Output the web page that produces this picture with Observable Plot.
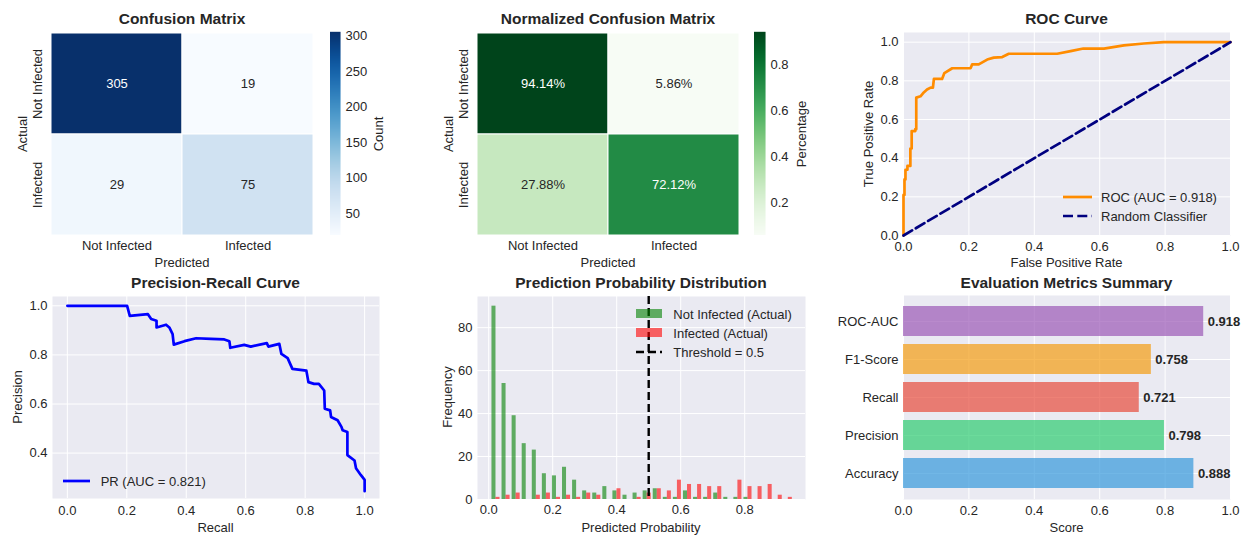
<!DOCTYPE html>
<html>
<head>
<meta charset="utf-8">
<script src="https://cdn.jsdelivr.net/npm/d3@7"></script>
<script src="https://cdn.jsdelivr.net/npm/@observablehq/plot@0.6"></script>
<style>
  html, body { margin: 0; padding: 0; background: #ffffff; }
  #fig { position: relative; width: 1246px; height: 535px; overflow: hidden;
         font-family: "Liberation Sans", Arial, sans-serif; color: #262626; background: #ffffff; }
  .lbl { position: absolute; white-space: nowrap; line-height: 1; font-size: 13px; }
  .ttl { font-size: 15.5px; font-weight: bold; }
</style>
</head>
<body>
<div id="fig"></div>
<script>
// ---------- data ----------
const classes = ["Not Infected", "Infected"];
const cmCounts = [[305, 19], [29, 75]];
const cmRates = [[0.9414, 0.0586], [0.2788, 0.7212]];

const rocFpr = [0, 0, 0.003, 0.003, 0.006, 0.006, 0.012, 0.012, 0.021, 0.021, 0.025, 0.025, 0.036, 0.036, 0.039, 0.039, 0.052, 0.062, 0.072, 0.083, 0.09, 0.093, 0.118, 0.125, 0.149, 0.205, 0.21, 0.23, 0.256, 0.276, 0.302, 0.322, 0.47, 0.511, 0.55, 0.613, 0.674, 0.735, 0.796, 1];
const rocTpr = [0, 0.21, 0.21, 0.29, 0.29, 0.34, 0.34, 0.36, 0.36, 0.45, 0.45, 0.54, 0.54, 0.55, 0.55, 0.713, 0.72, 0.74, 0.755, 0.765, 0.765, 0.81, 0.81, 0.84, 0.865, 0.865, 0.885, 0.885, 0.91, 0.92, 0.923, 0.94, 0.94, 0.954, 0.967, 0.967, 0.983, 0.993, 1, 1];
const rocAuc = 0.918;

const prRecall = [0, 0.201, 0.21, 0.271, 0.282, 0.3, 0.3, 0.332, 0.343, 0.354, 0.358, 0.394, 0.433, 0.483, 0.528, 0.545, 0.548, 0.595, 0.617, 0.671, 0.676, 0.713, 0.72, 0.741, 0.757, 0.804, 0.811, 0.83, 0.846, 0.864, 0.866, 0.884, 0.887, 0.909, 0.922, 0.926, 0.942, 0.942, 0.966, 0.971, 0.987, 1, 1];
const prPrecision = [1, 1, 0.959, 0.966, 0.946, 0.939, 0.912, 0.923, 0.912, 0.885, 0.842, 0.856, 0.868, 0.865, 0.863, 0.856, 0.829, 0.841, 0.834, 0.848, 0.834, 0.845, 0.804, 0.787, 0.743, 0.736, 0.689, 0.682, 0.682, 0.655, 0.581, 0.574, 0.547, 0.534, 0.507, 0.493, 0.486, 0.392, 0.37, 0.338, 0.311, 0.291, 0.245];
const prAuc = 0.821;

// 30 probability bins of equal width
const binStart = 0.007;
const binWidth = 0.0315;
const notInfectedCounts = [90, 54, 39, 26, 23, 12, 11, 15, 9, 4, 3, 6, 4, 2, 3, 4, 5, 1, 1, 4, 1, 1, 3, 1, 1, 1, 0, 0, 0, 0];
const infectedCounts = [1, 2, 3, 0, 2, 3, 1, 2, 1, 3, 2, 0, 5, 0, 1, 3, 5, 4, 9, 7, 7, 6, 6, 0, 9, 6, 6, 7, 2, 1];
const threshold = 0.5;

const metricNames = ["Accuracy", "Precision", "Recall", "F1-Score", "ROC-AUC"];
const metricValues = [0.888, 0.798, 0.721, 0.758, 0.918];
const metricColors = ["#3498db", "#2ecc71", "#e74c3c", "#f39c12", "#9b59b6"];

// ---------- helpers ----------
const fig = document.getElementById("fig");
const FONT = '"Liberation Sans", Arial, sans-serif';
const BG = "#EAEAF2";
const INK = "#262626";

function panel(box, m, opts) {
  const [x0, x1, y0, y1] = box;
  const [mt, mr, mb, ml] = m;
  const svg = Plot.plot({
    width: x1 - x0 + ml + mr,
    height: y1 - y0 + mt + mb,
    marginTop: mt, marginRight: mr, marginBottom: mb, marginLeft: ml,
    style: {fontFamily: FONT, fontSize: "13px", color: INK, background: "transparent", overflow: "visible"},
    ...opts
  });
  svg.style.position = "absolute";
  svg.style.left = (x0 - ml) + "px";
  svg.style.top = (y0 - mt) + "px";
  svg.style.maxWidth = "none";
  fig.append(svg);
  return svg;
}

function label(text, x, y, {rotate = 0, title = false, align = "center", bold = false} = {}) {
  const d = document.createElement("div");
  d.className = title ? "lbl ttl" : "lbl";
  d.textContent = text;
  d.style.left = x + "px";
  d.style.top = y + "px";
  if (bold) d.style.fontWeight = "bold";
  const tx = align === "left" ? "0" : "-50%";
  d.style.transform = `translate(${tx},-50%)` + (rotate ? ` rotate(${rotate}deg)` : "");
  fig.append(d);
}

function legendLine(x1, x2, y, color, width, dash) {
  const ns = "http://www.w3.org/2000/svg";
  const s = document.createElementNS(ns, "svg");
  s.setAttribute("width", x2 - x1);
  s.setAttribute("height", 8);
  s.style.position = "absolute";
  s.style.left = x1 + "px";
  s.style.top = (y - 4) + "px";
  const l = document.createElementNS(ns, "line");
  l.setAttribute("x1", 0); l.setAttribute("x2", x2 - x1);
  l.setAttribute("y1", 4); l.setAttribute("y2", 4);
  l.setAttribute("stroke", color);
  l.setAttribute("stroke-width", width);
  if (dash) l.setAttribute("stroke-dasharray", dash);
  s.append(l);
  fig.append(s);
}

function legendPatch(x1, x2, y, h, color) {
  const d = document.createElement("div");
  d.style.position = "absolute";
  d.style.left = x1 + "px";
  d.style.top = (y - h / 2) + "px";
  d.style.width = (x2 - x1) + "px";
  d.style.height = h + "px";
  d.style.background = color;
  fig.append(d);
}

const fmt1 = d3.format(".1f");
const unitTicks = [0, 0.2, 0.4, 0.6, 0.8, 1.0];
const grid = {stroke: "white", strokeOpacity: 1, strokeWidth: 1};

// ---------- confusion matrices ----------
const cmData = [];
classes.forEach((a, i) => classes.forEach((p, j) =>
  cmData.push({actual: a, predicted: p, count: cmCounts[i][j], rate: cmRates[i][j]})));

function heatmap(box, field, scheme, domain, textOf, isDark) {
  panel(box, [0, 0, 30, 20], {
    x: {domain: classes, padding: 0, label: null},
    y: {domain: classes, padding: 0, label: null},
    color: {type: "linear", scheme, domain},
    marks: [
      Plot.cell(cmData, {x: "predicted", y: "actual", fill: field, stroke: "white", strokeWidth: 1}),
      Plot.text(cmData.filter(isDark), {x: "predicted", y: "actual", text: textOf, fill: "white", fontSize: 13}),
      Plot.text(cmData.filter(d => !isDark(d)), {x: "predicted", y: "actual", text: textOf, fill: INK, fontSize: 13}),
      Plot.axisX({anchor: "bottom", tickSize: 0, tickPadding: 5.3, label: null}),
      Plot.axisY({anchor: "left", tickSize: 0, tickPadding: 9.5, tickRotate: -90, label: null})
    ]
  });
}

function colorbar(box, scheme, domain, ticks, tickFormat) {
  const n = Math.round(box[3] - box[2]);
  const [lo, hi] = domain;
  const slices = d3.range(n).map(i => ({
    y1: lo + (hi - lo) * i / n,
    y2: lo + (hi - lo) * (i + 1.2) / n,
    v: lo + (hi - lo) * (i + 0.5) / n
  }));
  panel(box, [0, 34, 0, 0], {
    x: {domain: [0, 1], axis: null},
    y: {domain, label: null},
    color: {type: "linear", scheme, domain},
    marks: [
      Plot.rect(slices, {x1: 0, x2: 1, y1: "y1", y2: "y2", fill: "v"}),
      Plot.axisY({anchor: "right", ticks, tickFormat, tickSize: 0, tickPadding: 4.5, label: null})
    ]
  });
}

heatmap([51, 313, 32, 235], "count", "blues", [19, 305], d => String(d.count), d => d.count > 160);
colorbar([330, 340.5, 32, 235], "blues", [19, 305], [50, 100, 150, 200, 250, 300], d3.format("d"));

heatmap([477, 739, 32, 235], "rate", "greens", [0.0586, 0.9414], d => (d.rate * 100).toFixed(2) + "%", d => d.rate > 0.5);
colorbar([754, 765.5, 32, 235], "greens", [0.0586, 0.9414], [0.2, 0.4, 0.6, 0.8], fmt1);

label("Confusion Matrix", 182, 18.5, {title: true});
label("Normalized Confusion Matrix", 608, 18.5, {title: true});
label("Actual", 22, 133.5, {rotate: -90});
label("Predicted", 182, 262);
label("Count", 378, 133.5, {rotate: -90});
label("Actual", 448, 133.5, {rotate: -90});
label("Predicted", 608, 262);
label("Percentage", 801, 133.5, {rotate: -90});

// ---------- ROC curve ----------
const rocData = rocFpr.map((f, i) => ({fpr: f, tpr: rocTpr[i]}));
panel([903, 1230, 32, 235], [0, 16, 30, 40], {
  x: {domain: [0, 1], label: null},
  y: {domain: [0, 1.05], label: null},
  marks: [
    Plot.frame({fill: BG, stroke: null}),
    Plot.gridX(unitTicks, grid),
    Plot.gridY(unitTicks, grid),
    Plot.axisX(unitTicks, {tickFormat: fmt1, tickSize: 0, tickPadding: 5.8, label: null}),
    Plot.axisY(unitTicks, {tickFormat: fmt1, tickSize: 0, tickPadding: 5, label: null}),
    Plot.line(rocData, {x: "fpr", y: "tpr", stroke: "darkorange", strokeWidth: 2.7}),
    Plot.line([{a: 0}, {a: 1}], {x: "a", y: "a", stroke: "navy", strokeWidth: 2.7, strokeDasharray: "10,4.3"})
  ]
});
label("ROC Curve", 1066.5, 18.5, {title: true});
label("True Positive Rate", 867.5, 133.5, {rotate: -90});
label("False Positive Rate", 1066.5, 262);
legendLine(1063, 1092, 196.7, "darkorange", 2.7);
label(`ROC (AUC = ${rocAuc.toFixed(3)})`, 1101, 196.7, {align: "left"});
legendLine(1063, 1092, 216, "navy", 2.7, "10,4.3");
label("Random Classifier", 1101, 216, {align: "left"});

// ---------- precision-recall curve ----------
const prData = prRecall.map((r, i) => ({recall: r, precision: prPrecision[i]}));
panel([52, 379, 296, 498], [10, 12, 30, 50], {
  x: {domain: [-0.05, 1.05], label: null},
  y: {domain: [0.215, 1.038], label: null},
  marks: [
    Plot.frame({fill: BG, stroke: null}),
    Plot.gridX(unitTicks, grid),
    Plot.gridY([0.4, 0.6, 0.8, 1.0], grid),
    Plot.axisX(unitTicks, {tickFormat: fmt1, tickSize: 0, tickPadding: 7, label: null}),
    Plot.axisY([0.4, 0.6, 0.8, 1.0], {tickFormat: fmt1, tickSize: 0, tickPadding: 5, label: null}),
    Plot.line(prData, {x: "recall", y: "precision", stroke: "blue", strokeWidth: 2.7})
  ]
});
label("Precision-Recall Curve", 215.5, 282.5, {title: true});
label("Precision", 17, 397, {rotate: -90});
label("Recall", 215.5, 526.5);
legendLine(62.7, 90, 480.7, "blue", 2.7);
label(`PR (AUC = ${prAuc.toFixed(3)})`, 100.7, 480.7, {align: "left"});

// ---------- probability histogram ----------
// each bin holds two side-by-side bars: not infected on the left half, infected on the right
const histNeg = notInfectedCounts.map((c, i) => ({x1: binStart + (i + 0.1) * binWidth, x2: binStart + (i + 0.5) * binWidth, count: c}));
const histPos = infectedCounts.map((c, i) => ({x1: binStart + (i + 0.5) * binWidth, x2: binStart + (i + 0.9) * binWidth, count: c}));
panel([477, 805, 296, 499], [10, 12, 30, 50], {
  x: {domain: [-0.035, 0.99], label: null},
  y: {domain: [0, 94.5], label: null},
  marks: [
    Plot.frame({fill: BG, stroke: null}),
    Plot.gridX([0, 0.2, 0.4, 0.6, 0.8], grid),
    Plot.gridY([0, 20, 40, 60, 80], grid),
    Plot.axisX([0, 0.2, 0.4, 0.6, 0.8], {tickFormat: fmt1, tickSize: 0, tickPadding: 4.8, label: null}),
    Plot.axisY([0, 20, 40, 60, 80], {tickSize: 0, tickPadding: 5, label: null}),
    Plot.rect(histNeg, {x1: "x1", x2: "x2", y1: 0, y2: "count", fill: "green", fillOpacity: 0.6}),
    Plot.rect(histPos, {x1: "x1", x2: "x2", y1: 0, y2: "count", fill: "red", fillOpacity: 0.6}),
    Plot.ruleX([threshold], {stroke: "black", strokeWidth: 2.4, strokeDasharray: "8,4"})
  ]
});
label("Prediction Probability Distribution", 641, 282.5, {title: true});
label("Frequency", 446.5, 397, {rotate: -90});
label("Predicted Probability", 641, 526.5);
legendPatch(635.7, 662.3, 313.5, 9.3, "rgba(0,128,0,0.6)");
label("Not Infected (Actual)", 673.3, 313.5, {align: "left"});
legendPatch(635.7, 662.3, 332.8, 9.3, "rgba(255,0,0,0.6)");
label("Infected (Actual)", 673.3, 332.8, {align: "left"});
legendLine(635.7, 662.3, 351.7, "black", 2.4, "8,4");
label(`Threshold = ${threshold}`, 673.3, 351.7, {align: "left"});

// ---------- metrics summary ----------
const metrics = metricNames.map((n, i) => ({name: n, value: metricValues[i], color: metricColors[i]}));
panel([903, 1230, 295, 499], [10, 16, 30, 85], {
  x: {domain: [0, 1], label: null},
  y: {domain: metricNames.slice().reverse(), paddingInner: 0.2, paddingOuter: 0.24, label: null},
  color: {type: "identity"},
  marks: [
    Plot.frame({fill: BG, stroke: null}),
    Plot.gridX(unitTicks, grid),
    Plot.gridY(grid),
    Plot.axisX(unitTicks, {tickFormat: fmt1, tickSize: 0, tickPadding: 6.3, label: null}),
    Plot.axisY({tickSize: 0, tickPadding: 5, label: null}),
    Plot.barX(metrics, {x: "value", y: "name", fill: "color", fillOpacity: 0.7}),
    Plot.text(metrics, {x: "value", y: "name", text: d => d.value.toFixed(3), dx: 4, textAnchor: "start", fontWeight: "bold", fontSize: 13, fill: INK})
  ]
});
label("Evaluation Metrics Summary", 1066.5, 282.5, {title: true});
label("Score", 1066.5, 526.5);
</script>
</body>
</html>
